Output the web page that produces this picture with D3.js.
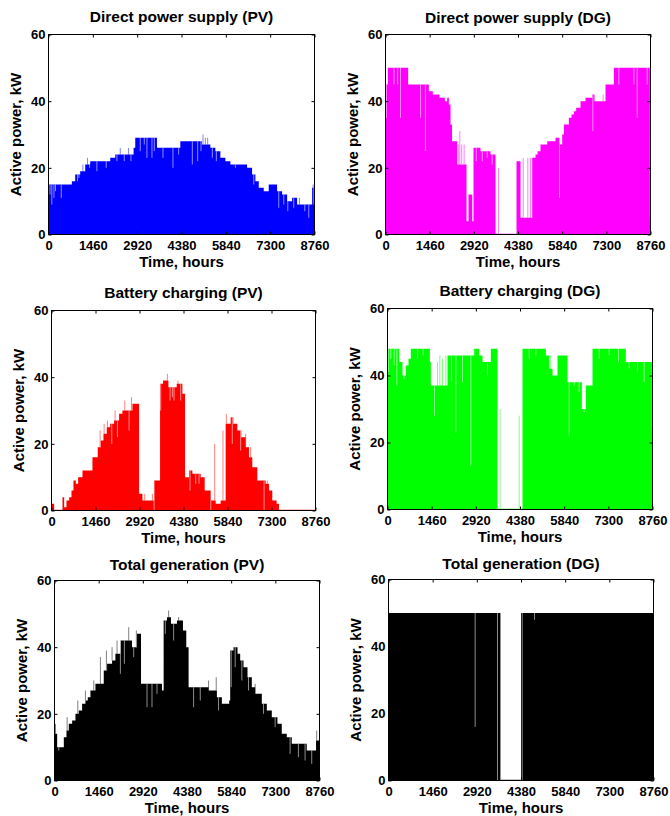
<!DOCTYPE html>
<html>
<head>
<meta charset="utf-8">
<script src="https://cdn.jsdelivr.net/npm/d3@7"></script>
<style>
	body { margin: 0; background: #fff; }
	svg text { font-family: "Liberation Sans", Arial, sans-serif; font-weight: bold; fill: #000; }
</style>
</head>
<body>
<div id="chart"></div>
<script>
// ticks shared by all six panels
var xTicks = [0, 1460, 2920, 4380, 5840, 7300, 8760];
var yTicks = [0, 20, 40, 60];

// levels as [start hour, kW], each held until the next start hour
// single hours that leave the level as [hour, kW]

var pvDirectSteps = [[0,15],[769,16],[879,18],[1044,19],[1209,21],[1374,22],[2033,23],[2198,24],[2802,26],
	[2857,29],[3572,26],[4341,28],[5055,27],[5330,26],[5495,25],[5660,23],[5825,22],[5990,21],[6539,20],
	[6704,18],[6814,16],[6924,14],[7089,13],[7253,15],[7528,13],[7693,12],[7858,10],[8023,11],[8187,9],[8682,14]];
var pvDirectSpikes = [[50,12],[110,9],[180,11],[230,13],[420,11],[956,16],[1000,17],[1132,21],[1286,23],
	[1352,20],[1594,19],[1901,20],[2253,22],[2363,26],[2495,22],[2638,26],[2715,22],[3022,25],[3154,27],
	[3242,23],[3407,23],[3484,25],[3770,23],[4099,20],[4286,24],[4737,21],[4913,22],[5022,25],[5088,30],
	[5165,29],[5242,29],[5396,23],[5528,22],[6154,20],[6759,15],[7583,8],[7748,9],[7880,7],[8077,8],
	[8264,11],[8440,7],[8572,5],[8715,15],[8737,9]];

var dgDirectSteps = [[0,45],[77,50],[749,45],[1433,43],[1565,42],[1785,41],[1962,40],[2039,41],[2094,39],
	[2149,33],[2200,28],[2370,21],[2678,4],[2744,12],[2866,4],[2909,26],[3140,25],[3471,24],[3637,0],
	[4331,22],[4463,5],[4850,23],[4959,24],[5025,25],[5124,27],[5346,28],[5620,29],[5763,27],[5841,30],
	[5896,33],[6061,35],[6149,36],[6226,37],[6303,38],[6447,40],[6612,41],[6832,42],[6909,40],[7273,45],
	[7549,50],[8739,5]];
var dgDirectSpikes = [[30,35],[280,45],[400,45],[496,35],[1160,35],[1320,25],[2420,27],[2457,31],[2520,27],
	[2600,27],[3000,22],[3200,22],[3361,23],[3526,21],[3736,20],[4552,23],[4705,23],[4794,23],[5752,11],
	[6854,31],[7196,42],[7714,45],[8210,45],[8320,35],[8651,45]];

var pvBatterySteps = [[0,2],[88,0],[365,4],[420,1],[497,3],[586,4],[663,6],[729,9],[807,8],[884,10],
	[1028,12],[1359,16],[1525,19],[1635,21],[1724,23],[1834,25],[1945,26],[2077,27],[2243,29],[2354,30],
	[2685,32],[2906,5],[3017,3],[3403,9],[3602,38],[3702,39],[3879,37],[4155,38],[4343,35],[4431,10],
	[4564,12],[4674,11],[4950,10],[5083,6],[5282,3],[5448,2],[5613,3],[5779,26],[5945,28],[6033,26],
	[6166,24],[6299,22],[6442,19],[6553,16],[6663,13],[6829,9],[7105,8],[7216,6],[7326,3],[7470,2],[7547,0]];
var pvBatterySpikes = [[1525,16],[1613,24],[1746,26],[1856,27],[2000,20],[2111,30],[2188,22],[2431,33],
	[2575,24],[2652,34],[2818,32],[3094,5],[3348,5],[3404,0],[3624,30],[3845,41],[3934,33],[4011,34],
	[4066,33],[4199,39],[4287,33],[4597,6],[4785,8],[4895,8],[5286,0],[5415,20],[5691,24],[5801,29],
	[5999,20],[6276,18],[6442,23],[6608,19],[7054,0],[7160,9]];

var dgBatterySteps = [[0,48],[386,44],[496,40],[606,43],[694,45],[771,48],[1400,44],[1433,37],[1984,46],
	[2865,48],[3031,46],[3141,44],[3416,48],[3637,0],[4463,48],[5235,46],[5345,42],[5455,40],[5620,46],
	[5951,38],[6425,30],[6557,37],[6777,48],[7879,44],[8739,25]];
var dgBatterySpikes = [[25,41],[110,45],[220,43],[309,37],[551,39],[992,45],[1179,46],[1554,28],[1653,44],
	[1730,46],[1818,45],[1928,46],[2116,38],[2259,23],[2480,38],[2755,13],[3306,40],[3720,30],[4353,28],
	[4684,45],[4904,46],[5400,46],[6006,22],[6171,37],[6336,35],[6502,29],[6998,45],[7328,46],[7637,44],
	[7989,42],[8265,41],[8485,38]];

var pvTotalSteps = [[0,14],[88,10],[308,13],[396,15],[473,17],[583,18],[693,20],[803,21],[913,23],[1023,24],
	[1100,25],[1188,27],[1353,29],[1628,33],[1738,35],[1903,36],[2013,38],[2178,42],[2563,40],[2728,44],
	[2860,29],[3553,27],[3608,48],[3718,49],[3850,47],[4048,48],[4246,45],[4356,40],[4433,28],[5093,27],
	[5368,25],[5533,23],[5775,24],[5808,39],[5918,40],[6050,38],[6138,36],[6248,34],[6380,31],[6523,28],
	[6633,26],[6853,23],[7018,21],[7183,19],[7370,17],[7513,14],[7678,13],[7843,11],[8338,9],[8646,12]];
var pvTotalSpikes = [[33,17],[143,9],[253,10],[418,19],[770,24],[1023,27],[1298,30],[1518,37],[1716,39],
	[1903,40],[2068,42],[2178,32],[2310,35],[2453,46],[2618,37],[2706,45],[3058,22],[3223,22],[3388,26],
	[3663,44],[3773,51],[3938,42],[4103,49],[4598,22],[4818,24],[5093,30],[5346,31],[5423,21],[5841,28],
	[5973,34],[6193,30],[6413,27],[6633,29],[6908,20],[7293,16],[7788,8],[8063,7],[8283,6],[8503,5],[8668,15]];

var dgTotalSteps = [[0,50],[3700,0],[4380,50]];
var dgTotalSpikes = [[2865,16],[3603,0],[4420,0],[4827,48]];

function Panel(options)
{
	var _defaultOpts = {
		svg: null,
		left: 0,       // plot box position on the page
		top: 0,
		width: 265,
		height: 200,
		title: "",
		titleDy: -12,  // title baseline above the box
		color: "#000000",
		steps: [],
		spikes: [],
		xMax: 8760,
		yMax: 60,
		tickLength: 3,
		tickFontSize: "13px",
		labelFontSize: "15px",
		titleFontSize: "15.5px"
	};

	var _options = Object.assign({}, _defaultOpts, options);

	function init()
	{
		var o = _options;
		var g = o.svg.append("g")
			.attr("transform", "translate(" + (o.left + 0.5) + "," + (o.top + 0.5) + ")");

		var x = d3.scaleLinear().domain([0, o.xMax]).range([0, o.width]);
		var y = d3.scaleLinear().domain([0, o.yMax]).range([o.height, 0]);

		drawSeries(g, x, y, o);
		drawAxes(g, x, y, o);
		drawLabels(g, o);
	}

	function levelAt(steps, hour)
	{
		var i = d3.bisector(function(d) { return d[0]; }).right(steps, hour) - 1;
		return i < 0 ? 0 : steps[i][1];
	}

	function drawSeries(g, x, y, o)
	{
		var last = o.steps[o.steps.length - 1];
		var points = o.steps.concat([[o.xMax, last[1]]]);

		var area = d3.area()
			.curve(d3.curveStepAfter)
			.x(function(d) { return x(d[0]); })
			.y0(y(0))
			.y1(function(d) { return y(d[1]); });

		// faint line along zero, seen where the series is empty
		g.append("line")
			.attr("x1", 0).attr("x2", o.width)
			.attr("y1", y(0) - 0.5).attr("y2", y(0) - 0.5)
			.attr("stroke", o.color)
			.attr("stroke-opacity", 0.45);

		g.append("path")
			.datum(points)
			.attr("d", area)
			.attr("fill", o.color);

		// one-hour values: light cuts below the level, thin marks above it
		g.selectAll("line.spike")
			.data(o.spikes)
			.enter()
			.append("line")
			.attr("class", "spike")
			.attr("x1", function(d) { return x(d[0]); })
			.attr("x2", function(d) { return x(d[0]); })
			.attr("y1", function(d) { return y(Math.min(d[1], levelAt(o.steps, d[0]))); })
			.attr("y2", function(d) { return y(Math.max(d[1], levelAt(o.steps, d[0]))); })
			.attr("stroke", function(d) { return d[1] < levelAt(o.steps, d[0]) ? "#ffffff" : o.color; })
			.attr("stroke-opacity", function(d) { return d[1] < levelAt(o.steps, d[0]) ? 0.55 : 0.5; })
			.attr("stroke-width", 1);
	}

	function drawAxes(g, x, y, o)
	{
		var fmt = d3.format("d");

		g.append("g")
			.attr("transform", "translate(0," + o.height + ")")
			.call(d3.axisBottom(x).tickValues(xTicks).tickFormat(fmt).tickSize(-o.tickLength).tickPadding(6));

		g.append("g")
			.call(d3.axisLeft(y).tickValues(yTicks).tickFormat(fmt).tickSize(-o.tickLength).tickPadding(3));

		// MATLAB style: ticks on all four sides
		g.append("g")
			.call(d3.axisTop(x).tickValues(xTicks).tickSize(-o.tickLength).tickFormat(""));
		g.append("g")
			.attr("transform", "translate(" + o.width + ",0)")
			.call(d3.axisRight(y).tickValues(yTicks).tickSize(-o.tickLength).tickFormat(""));

		g.selectAll(".domain").remove();
		g.selectAll(".tick line").attr("stroke", "#000");
		g.selectAll(".tick text").style("font-size", o.tickFontSize);

		g.append("rect")
			.attr("width", o.width)
			.attr("height", o.height)
			.attr("fill", "none")
			.attr("stroke", "#000")
			.attr("stroke-width", 1);
	}

	function drawLabels(g, o)
	{
		g.append("text")
			.attr("text-anchor", "middle")
			.attr("x", o.width / 2)
			.attr("y", o.titleDy)
			.style("font-size", o.titleFontSize)
			.text(o.title);

		g.append("text")
			.attr("text-anchor", "middle")
			.attr("x", o.width / 2)
			.attr("y", o.height + 32)
			.style("font-size", o.labelFontSize)
			.text("Time, hours");

		g.append("text")
			.attr("text-anchor", "middle")
			.attr("transform", "translate(-28," + (o.height / 2) + ") rotate(-90)")
			.style("font-size", o.labelFontSize)
			.text("Active power, kW");
	}

	this.init = init;
}

var svg = d3.select("#chart").append("svg")
	.attr("width", 670)
	.attr("height", 816);

var panels = [
	{title: "Direct power supply (PV)", color: "#0000ff", steps: pvDirectSteps, spikes: pvDirectSpikes,
		left: 48, top: 34, width: 266, height: 200, titleDy: -13},
	{title: "Direct power supply (DG)", color: "#ff00ff", steps: dgDirectSteps, spikes: dgDirectSpikes,
		left: 385, top: 34, width: 265, height: 200, titleDy: -12},
	{title: "Battery charging (PV)", color: "#ff0000", steps: pvBatterySteps, spikes: pvBatterySpikes,
		left: 51, top: 310, width: 264, height: 200, titleDy: -13},
	{title: "Battery charging (DG)", color: "#00ff00", steps: dgBatterySteps, spikes: dgBatterySpikes,
		left: 387, top: 308, width: 265, height: 201, titleDy: -13},
	{title: "Total generation (PV)", color: "#000000", steps: pvTotalSteps, spikes: pvTotalSpikes,
		left: 54, top: 580, width: 265, height: 200, titleDy: -11},
	{title: "Total generation (DG)", color: "#000000", steps: dgTotalSteps, spikes: dgTotalSpikes,
		left: 388, top: 579, width: 265, height: 201, titleDy: -11}
];

panels.forEach(function(p) {
	new Panel(Object.assign({svg: svg}, p)).init();
});
</script>
</body>
</html>
